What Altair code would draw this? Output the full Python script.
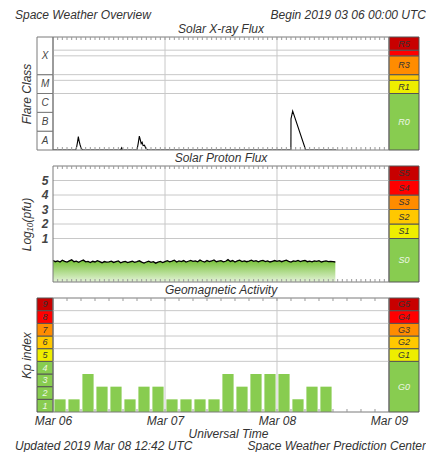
import altair as alt
import pandas as pd

# ---------------- data ----------------
day_hours = [0, 24, 48, 72]
day_labels = ["Mar 06", "Mar 07", "Mar 08", "Mar 09"]

# Solar X-ray flux (hours since 2019-03-06 00:00 UTC, W/m^2)
xray_hours = [0.0, 4.9, 5.1, 5.25, 5.43, 5.6, 5.8, 6.0, 6.3, 14.5, 14.7, 14.9,
              18.0, 18.25, 18.5, 18.7, 18.9, 19.1, 19.3, 19.6, 19.9, 20.3,
              50.98, 51.0, 51.36, 54.15, 60.7]
xray_flux = [1e-8, 1e-8, 1.6e-8, 2.6e-8, 5.1e-8, 3.0e-8, 1.9e-8, 1.3e-8, 1e-8, 1e-8, 1.3e-8, 1e-8,
             1e-8, 2.2e-8, 5.5e-8, 3.5e-8, 2.2e-8, 2.6e-8, 1.7e-8, 1.8e-8, 1.2e-8, 1e-8,
             1e-8, 4.5e-7, 1.17e-6, 1e-8, 1e-8]

flare_classes = ["A", "B", "C", "M", "X"]
flare_lo = [1e-8, 1e-7, 1e-6, 1e-5, 1e-4]
flare_hi = [1e-7, 1e-6, 1e-5, 1e-4, 1e-2]

r_scale = ["R0", "R1", "R2", "R3", "R4", "R5"]
r_lo = [1e-8, 1e-5, 5e-5, 1e-4, 1e-3, 2e-3]
r_hi = [1e-5, 5e-5, 1e-4, 1e-3, 2e-3, 1e-2]
r_show = [True, True, False, True, False, True]
xray_grid = [1e-5, 5e-5, 1e-4, 1e-3, 2e-3]

# Solar proton flux, log10(pfu), half-hour samples from 00:00
proton_log = [
    -0.52, -0.60, -0.55, -0.62, -0.50, -0.58, -0.63, -0.54, -0.47, -0.60, -0.56, -0.64,
    -0.55, -0.49, -0.61, -0.58, -0.66, -0.57, -0.62, -0.53, -0.60, -0.67, -0.59, -0.63,
    -0.61, -0.56, -0.65, -0.60, -0.55, -0.68, -0.62, -0.58, -0.66, -0.61, -0.57, -0.64,
    -0.60, -0.54, -0.63, -0.69, -0.62, -0.57, -0.65, -0.60, -0.70, -0.63, -0.58, -0.66,
    -0.59, -0.53, -0.61, -0.56, -0.50, -0.62, -0.55, -0.59, -0.52, -0.63, -0.57, -0.51,
    -0.58, -0.54, -0.61, -0.49, -0.57, -0.63, -0.52, -0.59, -0.55, -0.48, -0.60, -0.56,
    -0.53, -0.61, -0.57, -0.46, -0.58, -0.52, -0.62, -0.55, -0.50, -0.59, -0.54, -0.60,
    -0.56, -0.49, -0.58, -0.53, -0.61, -0.55, -0.51, -0.59, -0.54, -0.62, -0.57, -0.52,
    -0.58, -0.53, -0.60, -0.55, -0.50, -0.58, -0.63, -0.54, -0.57, -0.51, -0.59, -0.55,
    -0.52, -0.60, -0.56, -0.61, -0.54, -0.58, -0.53, -0.62, -0.57, -0.55, -0.60, -0.58,
    -0.59, -0.62,
]
proton_step = 0.5

s_scale = ["S0", "S1", "S2", "S3", "S4", "S5"]
s_lo = [-2, 1, 2, 3, 4, 5]
s_hi = [1, 2, 3, 4, 5, 6]
proton_ticks = [1, 2, 3, 4, 5]

# Planetary Kp index, 3-hour intervals
kp_values = [1, 1, 3, 2, 2, 1, 2, 2,
             1, 1, 1, 1, 3, 2, 3, 3,
             3, 1, 2, 2]
kp_levels = [1, 2, 3, 4, 5, 6, 7, 8, 9]
g_scale = ["G0", "G1", "G2", "G3", "G4", "G5"]
g_lo = [0, 4, 5, 6, 7, 8]
g_hi = [4, 5, 6, 7, 8, 9]
kp_grid = [4, 5, 6, 7, 8]

scale_colors = ["#88cc50", "#eeee00", "#ffc800", "#ff8c00", "#ff0000", "#c80000"]
scale_text = ["#eef7e6", "#333333", "#333333", "#333333", "#333333", "#333333"]
kp_cell_colors = ["#88cc50", "#88cc50", "#88cc50", "#88cc50", "#eeee00",
                  "#ffc800", "#ff8c00", "#ff0000", "#c80000"]
kp_cell_text = ["#eef7e6"] * 4 + ["#333333"] * 5

# ---------------- layout ----------------
W = 382
H1, H2, H3 = 113, 116, 114
XMIN, XMAX = -3.43, 78.43
LABX = -1.7     # centre of the label column
SCX = 75.2      # centre of the scale column
FONT = "Liberation Sans"
TXT = "#333333"
GRID = "#c8c8c8"
FRAME = "#7a7a7a"

xs = alt.Scale(domain=[XMIN, XMAX], nice=False, zero=False)


def yaxis(title):
    return alt.Axis(title=title, labels=False, ticks=False, domain=False, grid=False,
                    titlePadding=4, titleFont=FONT, titleFontSize=12,
                    titleFontStyle="italic", titleFontWeight="normal", titleColor=TXT)


hour_ticks = pd.DataFrame({"h": list(range(1, 72))})
kp_ticks = pd.DataFrame({"h": list(range(3, 72, 3))})
day_grid = pd.DataFrame({"h": [24, 48]})


def build_panel(ys, ya, xa, ymin, ymax, height, ticks_df, title):
    """Returns helper encoders and the shared decoration layers for one panel."""
    def xf(f):
        return alt.X(f, type="quantitative", scale=xs, axis=xa)

    def xd(v):
        return alt.XDatum(v, type="quantitative", scale=xs, axis=xa)

    def yf(f):
        return alt.Y(f, type="quantitative", scale=ys, axis=ya)

    def yd(v):
        return alt.YDatum(v, type="quantitative", scale=ys, axis=ya)

    vgrid = alt.Chart(day_grid).mark_rule(color=GRID, strokeWidth=1).encode(
        x=xf("h"), y=yd(ymin), y2=alt.Y2Datum(ymax))
    frame = alt.Chart(pd.DataFrame({"a": [0]})).mark_rect(
        fillOpacity=0, stroke=FRAME, strokeWidth=1).encode(
        x=xd(0), x2=alt.X2Datum(72), y=yd(ymin), y2=alt.Y2Datum(ymax))
    ttop = alt.Chart(ticks_df).mark_rule(color="#999999").encode(
        x=xf("h"), y=alt.value(0), y2=alt.value(3))
    tbot = alt.Chart(ticks_df).mark_rule(color="#999999").encode(
        x=xf("h"), y=alt.value(height - 3), y2=alt.value(height))
    ttl = alt.Chart(pd.DataFrame({"t": [title]})).mark_text(
        font=FONT, fontStyle="italic", fontSize=12, color=TXT, baseline="middle").encode(
        x=xd(36), y=alt.value(-8), text="t:N")
    return (xf, xd, yf, yd), [vgrid, frame, ttop, tbot, ttl]


def scale_column(enc, names, lo, hi, show, mid_log=False):
    xf, xd, yf, yd = enc
    df = pd.DataFrame({"name": names, "lo": lo, "hi": hi, "fill": scale_colors,
                       "tc": scale_text, "show": show})
    if mid_log:
        df["mid"] = (df["lo"] * df["hi"]) ** 0.5
    else:
        df["mid"] = (df["lo"] + df["hi"]) / 2
    rects = alt.Chart(df).mark_rect(stroke="#555555", strokeWidth=1).encode(
        x=xd(72), x2=alt.X2Datum(XMAX), y=yf("lo"), y2="hi:Q",
        color=alt.Color("fill:N", scale=None))
    txt = alt.Chart(df[df["show"]]).mark_text(
        font=FONT, fontStyle="italic", fontSize=9, baseline="middle").encode(
        x=xd(SCX), y=yf("mid"), text="name:N", color=alt.Color("tc:N", scale=None))
    return rects, txt


# ---------------- panel 1: X-ray ----------------
ys1 = alt.Scale(type="log", domain=[1e-8, 1e-2], nice=False)
ya1 = yaxis("Flare Class")
enc1, deco1 = build_panel(ys1, ya1, None, 1e-8, 1e-2, H1, hour_ticks, "Solar X-ray Flux")
xf1, xd1, yf1, yd1 = enc1
r_rects, r_txt = scale_column(enc1, r_scale, r_lo, r_hi, r_show, mid_log=True)

fc_df = pd.DataFrame({"c": flare_classes, "lo": flare_lo, "hi": flare_hi})
fc_df["mid"] = (fc_df["lo"] * fc_df["hi"]) ** 0.5
fc_rects = alt.Chart(fc_df).mark_rect(fill="white", stroke=FRAME, strokeWidth=1).encode(
    x=xd1(XMIN), x2=alt.X2Datum(0), y=yf1("lo"), y2="hi:Q")
fc_txt = alt.Chart(fc_df).mark_text(
    font=FONT, fontStyle="italic", fontSize=10, color="#444444", baseline="middle").encode(
    x=xd1(LABX), y=yf1("mid"), text="c:N")
xg = alt.Chart(pd.DataFrame({"v": xray_grid})).mark_rule(color=GRID).encode(
    x=xd1(0), x2=alt.X2Datum(72), y=yf1("v"))
xline = alt.Chart(pd.DataFrame({"h": xray_hours, "f": xray_flux})).mark_line(
    color="black", strokeWidth=1.1, clip=True).encode(x=xf1("h"), y=yf1("f"))

header = alt.Chart(pd.DataFrame({"t": ["Space Weather Overview"]})).mark_text(
    font=FONT, fontStyle="italic", fontSize=12, color=TXT, align="left", baseline="middle").encode(
    x=alt.value(-22), y=alt.value(-22), text="t:N")
header_r = alt.Chart(pd.DataFrame({"t": ["Begin 2019 03 06 00:00 UTC"]})).mark_text(
    font=FONT, fontStyle="italic", fontSize=12, color=TXT, align="right", baseline="middle").encode(
    x=alt.value(389), y=alt.value(-22), text="t:N")

vg1, fr1, tt1, tb1, ti1 = deco1
p1 = alt.layer(r_rects, fc_rects, xg, vg1, xline, fr1, tt1, tb1, r_txt, fc_txt, ti1,
               header, header_r).properties(width=W, height=H1)

# ---------------- panel 2: protons ----------------
ys2 = alt.Scale(domain=[-2, 6], nice=False, zero=False)
ya2 = yaxis("Log₁₀(pfu)")
enc2, deco2 = build_panel(ys2, ya2, None, -2, 6, H2, hour_ticks, "Solar Proton Flux")
xf2, xd2, yf2, yd2 = enc2
s_rects, s_txt = scale_column(enc2, s_scale, s_lo, s_hi, [True] * 6)
pt_txt = alt.Chart(pd.DataFrame({"v": proton_ticks})).mark_text(
    font=FONT, fontStyle="italic", fontSize=12, fontWeight="bold", color="#444444",
    baseline="middle").encode(x=xd2(LABX), y=yf2("v"), text="v:Q")
pg = alt.Chart(pd.DataFrame({"v": proton_ticks})).mark_rule(color=GRID).encode(
    x=xd2(0), x2=alt.X2Datum(72), y=yf2("v"))
p_df = pd.DataFrame({"h": [i * proton_step for i in range(len(proton_log))], "v": proton_log})
p_area = alt.Chart(p_df).mark_area(
    color=alt.LinearGradient(gradient="linear",
                             stops=[alt.GradientStop(color="#74c034", offset=0),
                                    alt.GradientStop(color="#e4f3d8", offset=1)],
                             x1=0, x2=0, y1=0, y2=1)).encode(
    x=xf2("h"), y=yf2("v"), y2=alt.Y2Datum(-2))
p_line = alt.Chart(p_df).mark_line(color="black", strokeWidth=1.3).encode(
    x=xf2("h"), y=yf2("v"))
vg2, fr2, tt2, tb2, ti2 = deco2
p2 = alt.layer(s_rects, pg, vg2, p_area, p_line, fr2, tt2, tb2, s_txt, pt_txt, ti2).properties(
    width=W, height=H2)

# ---------------- panel 3: Kp ----------------
ys3 = alt.Scale(domain=[0, 9], nice=False, zero=False)
ya3 = yaxis("Kp index")
xaxis_b = alt.Axis(values=day_hours,
                   labelExpr="[" + ",".join("'%s'" % s for s in day_labels) + "][round(datum.value/24)]",
                   title="Universal Time", domain=False, ticks=False, grid=False,
                   labelFont=FONT, labelFontSize=12, labelFontStyle="italic", labelColor=TXT,
                   labelPadding=3, labelFlush=False,
                   titleFont=FONT, titleFontSize=12, titleFontStyle="italic",
                   titleFontWeight="normal", titleColor=TXT, titlePadding=2)
enc3, deco3 = build_panel(ys3, ya3, xaxis_b, 0, 9, H3, kp_ticks, "Geomagnetic Activity")
xf3, xd3, yf3, yd3 = enc3
g_rects, g_txt = scale_column(enc3, g_scale, g_lo, g_hi, [True] * 6)
k_df = pd.DataFrame({"k": kp_levels, "fill": kp_cell_colors, "tc": kp_cell_text})
k_df["lo"] = k_df["k"] - 1
k_df["mid"] = k_df["k"] - 0.5
k_rects = alt.Chart(k_df).mark_rect(stroke="#555555", strokeWidth=1).encode(
    x=xd3(XMIN), x2=alt.X2Datum(0), y=yf3("lo"), y2="k:Q",
    color=alt.Color("fill:N", scale=None))
k_txt = alt.Chart(k_df).mark_text(
    font=FONT, fontStyle="italic", fontSize=9, baseline="middle").encode(
    x=xd3(LABX), y=yf3("mid"), text="k:Q", color=alt.Color("tc:N", scale=None))
kg = alt.Chart(pd.DataFrame({"v": kp_grid})).mark_rule(color=GRID).encode(
    x=xd3(0), x2=alt.X2Datum(72), y=yf3("v"))
kb_df = pd.DataFrame({"kp": kp_values})
kb_df["start"] = [3 * i + 0.3 for i in range(len(kp_values))]
kb_df["end"] = [3 * i + 2.7 for i in range(len(kp_values))]
k_bars = alt.Chart(kb_df).mark_rect(color="#88cc50").encode(
    x=xf3("start"), x2="end:Q", y=yf3("kp"), y2=alt.Y2Datum(0))
footer = alt.Chart(pd.DataFrame({"t": ["Updated 2019 Mar 08 12:42 UTC"]})).mark_text(
    font=FONT, fontStyle="italic", fontSize=12, color=TXT, align="left", baseline="middle").encode(
    x=alt.value(-22), y=alt.value(H3 + 34), text="t:N")
footer_r = alt.Chart(pd.DataFrame({"t": ["Space Weather Prediction Center"]})).mark_text(
    font=FONT, fontStyle="italic", fontSize=12, color=TXT, align="right", baseline="middle").encode(
    x=alt.value(389), y=alt.value(H3 + 34), text="t:N")
vg3, fr3, tt3, tb3, ti3 = deco3
p3 = alt.layer(g_rects, k_rects, kg, vg3, k_bars, fr3, tt3, tb3, g_txt, k_txt, ti3,
               footer, footer_r).properties(width=W, height=H3)

chart = alt.vconcat(p1, p2, p3, spacing=16, bounds="flush").properties(
    padding={"left": 7, "top": 1, "right": 0, "bottom": 0}
).configure_view(stroke=None)

chart.save("out.html", embed_options={"renderer": "svg", "actions": False})
